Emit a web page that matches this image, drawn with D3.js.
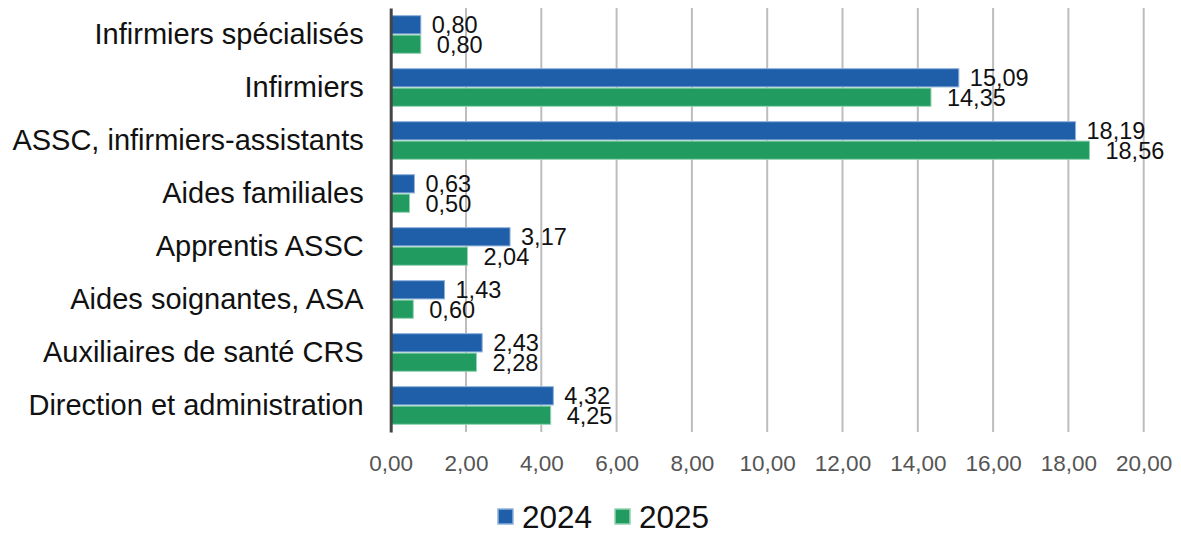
<!DOCTYPE html>
<html><head><meta charset="utf-8">
<script src="https://cdn.jsdelivr.net/npm/d3@7"></script>
<style>body{margin:0;background:#fff;} svg{display:block;font-family:"Liberation Sans",Arial,sans-serif;}</style>
</head><body><svg id="c" width="1181" height="534"></svg>
<script>
const categories = ["Infirmiers spécialisés","Infirmiers","ASSC, infirmiers-assistants","Aides familiales","Apprentis ASSC","Aides soignantes, ASA","Auxiliaires de santé CRS","Direction et administration"];
const series2024 = [0.80,15.09,18.19,0.63,3.17,1.43,2.43,4.32];
const series2025 = [0.80,14.35,18.56,0.50,2.04,0.60,2.28,4.25];
const seriesNames = ["2024","2025"];
const xTicks = [0,2,4,6,8,10,12,14,16,18,20];

const colors = ["#1f5ea8","#229b60"];
const strokes = ["#8fb2dc","#93d4b2"];
const svg = d3.select("#c");
const x = d3.scaleLinear().domain([0,20]).range([390.7,1143.7]);
const y = d3.scaleBand().domain(categories).range([8,432]).paddingInner(0.29).paddingOuter(0.145);
const sub = d3.scaleBand().domain(seriesNames).range([0,y.bandwidth()]).paddingInner(0.06);
const fmt = v => v.toFixed(2).replace(".",",");

// gridlines
svg.append("g").selectAll("line").data(xTicks.slice(1)).join("line")
  .attr("x1",d=>x(d)).attr("x2",d=>x(d)).attr("y1",8).attr("y2",432)
  .attr("stroke","#bdbdbd").attr("stroke-width",2);

// x axis labels
const xa = svg.append("g").attr("transform","translate(0,432)")
  .call(d3.axisBottom(x).tickValues(xTicks).tickFormat(fmt).tickSize(0).tickPadding(23));
xa.select(".domain").remove();
xa.selectAll("text").attr("font-size",22.5).attr("fill","#555").attr("font-family","Liberation Sans, Arial, sans-serif");

const data = categories.map((c,i)=>({c, vals:[series2024[i],series2025[i]]}));
const g = svg.append("g");
data.forEach(d=>{
  d.vals.forEach((v,j)=>{
    const y0 = y(d.c)+sub(seriesNames[j]);
    g.append("rect").attr("x",x(0)).attr("y",y0).attr("width",x(v)-x(0)).attr("height",sub.bandwidth())
      .attr("fill",colors[j]).attr("stroke",strokes[j]).attr("stroke-width",1);
    g.append("text").attr("x",x(v)+(j===0?11:16)).attr("y",y0+sub.bandwidth()/2).attr("dy","0.36em")
      .attr("font-size",23.5).attr("fill","#111").text(fmt(v));
  });
});

// y axis
const ya = svg.append("g").attr("transform","translate(390.7,0)")
  .call(d3.axisLeft(y).tickSize(0).tickPadding(27));
ya.select(".domain").attr("stroke","#444").attr("stroke-width",3);
ya.selectAll("text").attr("font-size",29).attr("fill","#111").attr("font-family","Liberation Sans, Arial, sans-serif");

// legend
const leg = svg.append("g");
const lx = [498,615];
seriesNames.forEach((s,j)=>{
  leg.append("rect").attr("x",lx[j]).attr("y",509).attr("width",15).attr("height",15)
    .attr("fill",colors[j]).attr("stroke",strokes[j]).attr("stroke-width",1.5);
  leg.append("text").attr("x",lx[j]+24).attr("y",517).attr("dy","0.36em").attr("font-size",31.5).attr("fill","#111").text(s);
});
</script></body></html>
